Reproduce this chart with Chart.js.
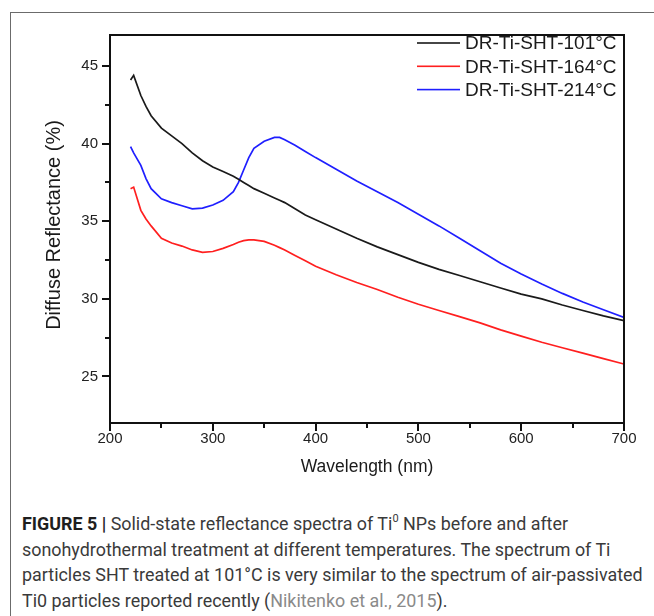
<!DOCTYPE html>
<html>
<head>
<meta charset="utf-8">
<script src="https://cdn.jsdelivr.net/npm/chart.js@4"></script>
<style>
  html, body { margin: 0; padding: 0; background: #fff; width: 654px; height: 616px; overflow: hidden; }
  #frame { position: absolute; left: 10px; top: 12px; width: 700px; height: 700px;
           border-left: 1px solid #6b6b6b; border-top: 1px solid #6b6b6b; }
  #wrap { position: absolute; left: 0; top: 0; width: 654px; height: 490px; }
  #plotbox { position: absolute; border: 2px solid #111; box-sizing: border-box; pointer-events: none; }
  #caption { position: absolute; left: 22px; top: 511px; font-family: Roboto, "Liberation Sans", sans-serif;
             font-size: 17px; line-height: 25.6px; color: #3a3a3a; white-space: nowrap; }
  #caption b { color: #1e1e1e; font-weight: 700; }
  #caption .cite { color: #8a8a8a; }
  #caption sup { font-size: 11px; line-height: 0; position: relative; top: -1px; }
</style>
</head>
<body>
<div id="frame"></div>
<div id="wrap"><canvas id="c" width="654" height="490"></canvas></div>
<div id="plotbox"></div>
<div id="caption"><span id="l1"><b>FIGURE 5 |</b> Solid-state reflectance spectra of Ti<sup>0</sup> NPs before and after</span><br><span id="l2">sonohydrothermal treatment at different temperatures. The spectrum of Ti</span><br><span id="l3">particles SHT treated at 101°C is very similar to the spectrum of air-passivated</span><br><span id="l4">Ti0 particles reported recently (<span class="cite">Nikitenko et al., 2015</span>).</span></div>
<script>
const wavelengths = [220, 223, 230, 235, 240, 250, 260, 270, 280, 290, 300, 310, 320, 325, 330, 335, 340, 350, 360, 365, 370, 380, 390, 400, 420, 440, 460, 480, 500, 520, 540, 560, 580, 600, 620, 640, 660, 680, 700];
const sht101 = [44.1, 44.4, 43.1, 42.4, 41.8, 41.0, 40.5, 40.0, 39.4, 38.9, 38.5, 38.2, 37.9, 37.7, 37.5, 37.3, 37.1, 36.8, 36.5, 36.35, 36.2, 35.8, 35.4, 35.1, 34.5, 33.9, 33.35, 32.85, 32.35, 31.9, 31.5, 31.1, 30.7, 30.3, 30.0, 29.6, 29.25, 28.9, 28.6];
const sht164 = [37.1, 37.2, 35.7, 35.15, 34.7, 33.9, 33.6, 33.4, 33.15, 33.0, 33.05, 33.25, 33.5, 33.65, 33.75, 33.8, 33.8, 33.7, 33.45, 33.3, 33.15, 32.8, 32.45, 32.1, 31.55, 31.05, 30.6, 30.1, 29.65, 29.25, 28.85, 28.45, 28.0, 27.6, 27.2, 26.85, 26.5, 26.15, 25.8];
const sht214 = [39.8, 39.4, 38.6, 37.75, 37.1, 36.45, 36.2, 36.0, 35.8, 35.85, 36.05, 36.35, 36.9, 37.5, 38.3, 39.1, 39.7, 40.15, 40.4, 40.4, 40.25, 39.9, 39.5, 39.1, 38.35, 37.6, 36.9, 36.2, 35.45, 34.7, 33.9, 33.1, 32.3, 31.6, 30.95, 30.35, 29.8, 29.3, 28.8];
const seriesLabels = ['DR-Ti-SHT-101°C', 'DR-Ti-SHT-164°C', 'DR-Ti-SHT-214°C'];
const seriesColors = ['#1a1a1a', '#ff1f1f', '#1f1fff'];
const xMajorTicks = [200, 300, 400, 500, 600, 700];
const xMinorTicks = [250, 350, 450, 550, 650];
const yMajorTicks = [25, 30, 35, 40, 45];
const yMinorTicks = [27.5, 32.5, 37.5, 42.5];
const xTitle = 'Wavelength (nm)';
const yTitle = 'Diffuse Reflectance (%)';

const toPts = vals => wavelengths.map((w, i) => ({ x: w, y: vals[i] }));
const seriesValues = [sht101, sht164, sht214];

const FONT = '"Liberation Sans", Arial, sans-serif';
const AXIS = '#111111';
const AXW = 2;

const framePlugin = {
  id: 'frameTicks',
  afterDraw(chart) {
    const ctx = chart.ctx;
    const a = chart.chartArea;
    const xs = chart.scales.x, ys = chart.scales.y;
    const L = Math.round(a.left), B = Math.round(a.bottom);
    ctx.save();
    ctx.strokeStyle = AXIS;
    ctx.lineWidth = AXW;
    ctx.beginPath();
    xMajorTicks.forEach(v => { const p = Math.round(xs.getPixelForValue(v)); ctx.moveTo(p, B); ctx.lineTo(p, B + 8); });
    xMinorTicks.forEach(v => { const p = Math.round(xs.getPixelForValue(v)); ctx.moveTo(p, B); ctx.lineTo(p, B + 5); });
    yMajorTicks.forEach(v => { const p = Math.round(ys.getPixelForValue(v)); ctx.moveTo(L, p); ctx.lineTo(L - 8, p); });
    yMinorTicks.forEach(v => { const p = Math.round(ys.getPixelForValue(v)); ctx.moveTo(L, p); ctx.lineTo(L - 5, p); });
    ctx.stroke();
    ctx.fillStyle = '#1a1a1a';
    ctx.textAlign = 'center';
    ctx.textBaseline = 'middle';
    ctx.font = '17.5px ' + FONT;
    ctx.fillText(xTitle, (a.left + a.right) / 2, 467);
    ctx.save();
    ctx.translate(54, (a.top + a.bottom) / 2 - 4);
    ctx.rotate(-Math.PI / 2);
    ctx.font = '20px ' + FONT;
    ctx.fillText(yTitle, 0, 0);
    ctx.restore();
    ctx.font = '19px ' + FONT;
    ctx.textAlign = 'left';
    chart.data.datasets.forEach((ds, i) => {
      const y = 43 + i * 23.3;
      ctx.fillStyle = ds.borderColor;
      ctx.fillRect(417, y - 0.8, 43, 1.6);
      ctx.fillStyle = '#1a1a1a';
      ctx.fillText(ds.label, 465, y + 1);
    });
    ctx.restore();
    // place the HTML plot frame on the chart area
    const box = document.getElementById('plotbox');
    box.style.left = (Math.round(a.left) - 1) + 'px';
    box.style.top = (Math.round(a.top) - 1) + 'px';
    box.style.width = (Math.round(a.right) - Math.round(a.left) + 2) + 'px';
    box.style.height = (Math.round(a.bottom) - Math.round(a.top) + 2) + 'px';
  }
};

const noGrid = { display: false, drawTicks: false };

new Chart(document.getElementById('c'), {
  type: 'line',
  data: {
    datasets: seriesValues.map((vals, i) => ({
      label: seriesLabels[i],
      data: toPts(vals),
      borderColor: seriesColors[i],
      backgroundColor: seriesColors[i],
      borderWidth: 1.7,
      pointRadius: 0,
      tension: 0,
      fill: false
    }))
  },
  options: {
    responsive: false,
    animation: false,
    layout: { padding: { left: 0, top: 35, right: 30, bottom: 0 } },
    plugins: { legend: { display: false }, tooltip: { enabled: false } },
    scales: {
      x: {
        type: 'linear', position: 'bottom', min: 200, max: 700,
        grid: noGrid,
        border: { display: false },
        afterBuildTicks: s => { s.ticks = xMajorTicks.map(v => ({ value: v })); },
        afterFit: s => { s.height = 67; },
        ticks: { color: '#222', font: { family: FONT, size: 15 }, padding: 7, maxRotation: 0, autoSkip: false }
      },
      y: {
        type: 'linear', position: 'left', min: 22, max: 47,
        grid: noGrid,
        border: { display: false },
        afterBuildTicks: s => { s.ticks = yMajorTicks.map(v => ({ value: v })); },
        afterFit: s => { s.width = 110; },
        ticks: { color: '#222', font: { family: FONT, size: 15 }, padding: 12, autoSkip: false }
      }
    }
  },
  plugins: [framePlugin]
});

(function fitCaption() {
  const cap = document.getElementById('caption');
  const l3 = document.getElementById('l3');
  const w = l3.getBoundingClientRect().width;
  if (w > 0) {
    const fs = 17 * 621 / w;
    cap.style.fontSize = fs.toFixed(2) + 'px';
  }
})();
</script>
</body>
</html>
